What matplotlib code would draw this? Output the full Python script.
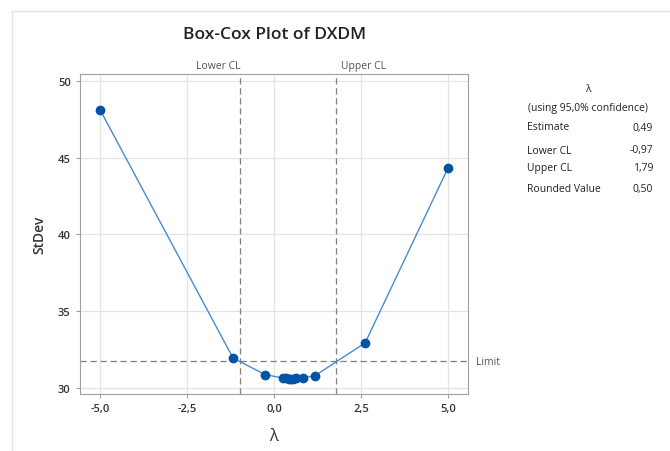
import matplotlib
matplotlib.use("Agg")
import matplotlib.pyplot as plt
from matplotlib.patches import Rectangle

plt.rcParams['font.family'] = ['Open Sans', 'DejaVu Sans']

# lambda values evaluated and the resulting standard deviation
lam = [-5.0, -1.18, -0.26, 0.26, 0.35, 0.43, 0.49, 0.55, 0.62, 0.84, 1.18, 2.62, 5.0]
stdev = [48.1, 31.95, 30.87, 30.64, 30.62, 30.61, 30.61, 30.61, 30.62, 30.66, 30.8, 32.93, 44.3]

lower_cl = -0.97
upper_cl = 1.79
limit = 31.75

xticks = [-5.0, -2.5, 0.0, 2.5, 5.0]
yticks = [30, 35, 40, 45, 50]

info_labels = ["Estimate", "Lower CL", "Upper CL", "Rounded Value"]
info_values = ["0,49", "-0,97", "1,79", "0,50"]

blue = "#0054A6"
line_blue = "#4A8AD4"
grey = "#7f7f7f"

fig = plt.figure(figsize=(6.7, 4.52), dpi=100)

# faint frame of the graph window
fig.patches.append(Rectangle((12 / 670, -0.05), 1.1, 1 - 12 / 452 + 0.05,
                             transform=fig.transFigure, fill=False,
                             edgecolor="#e2e2e2", lw=1.0))

ax = fig.add_axes([0.119, 0.126, 0.58, 0.708])

ax.plot(lam, stdev, color=line_blue, lw=1.0, zorder=3)
ax.plot(lam, stdev, 'o', color=blue, ms=6, zorder=4)

ax.axvline(lower_cl, color=grey, ls=(0, (5, 3)), lw=0.9, zorder=2)
ax.axvline(upper_cl, color=grey, ls=(0, (5, 3)), lw=0.9, zorder=2)
ax.axhline(limit, color=grey, ls=(0, (5, 3)), lw=0.9, zorder=2)

ax.set_xlim(-5.59, 5.59)
ax.set_ylim(29.6, 50.45)
ax.set_xticks(xticks)
ax.set_xticklabels([("%.1f" % v).replace(".", ",") for v in xticks])
ax.set_yticks(yticks)
ax.grid(color="#e3e3e3", lw=0.9, zorder=0)
ax.set_axisbelow(True)
for s in ax.spines.values():
    s.set_color("#a0a0a0")
ax.tick_params(colors="#333333", labelsize=8, length=3, color="#a0a0a0")
for t in ax.get_xticklabels() + ax.get_yticklabels():
    t.set_fontweight("semibold")

ax.set_xlabel("λ", fontsize=12, color="#333333", labelpad=10)
ax.set_ylabel("StDev", fontsize=10, color="#333333", labelpad=8, fontweight="semibold")

ax.text(lower_cl, 1.01, "Lower CL", transform=ax.get_xaxis_transform(),
        ha="right", va="bottom", fontsize=7.5, color="#555555")
ax.text(upper_cl + 0.15, 1.01, "Upper CL", transform=ax.get_xaxis_transform(),
        ha="left", va="bottom", fontsize=7.5, color="#555555")
ax.text(1.02, limit, "Limit", transform=ax.get_yaxis_transform(),
        ha="left", va="center", fontsize=7.5, color="#555555")

fig.text(0.41, 1 - 35 / 452, "Box-Cox Plot of DXDM", ha="center", va="center",
         fontsize=12.5, fontweight="semibold", color="#222222")

# side panel
fig.text(588 / 670, 1 - 89 / 452, "λ", ha="center", va="center", fontsize=7.5, color="#222222")
fig.text(588 / 670, 1 - 109 / 452, "(using 95,0% confidence)", ha="center", va="center",
         fontsize=7.5, color="#222222")
ys = [128, 151, 168, 190]
for lab, val, yy in zip(info_labels, info_values, ys):
    fig.text(527 / 670, 1 - yy / 452, lab, ha="left", va="center", fontsize=7.5, color="#222222")
    fig.text(653 / 670, 1 - yy / 452, val, ha="right", va="center", fontsize=7.5, color="#222222")

fig.savefig("out.png", dpi=100)
